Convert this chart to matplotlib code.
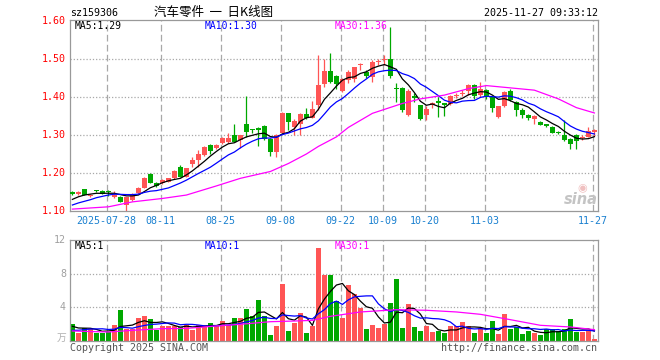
import matplotlib
matplotlib.use('Agg')
import matplotlib.pyplot as plt
import numpy as np

plt.rcParams['lines.scale_dashes'] = False

# ---------------- data ----------------
opens = [1.147, 1.146, 1.157, 1.140, 1.154, 1.152, 1.151, 1.136, 1.136, 1.116,
         1.130, 1.147, 1.161, 1.197, 1.173, 1.175, 1.177, 1.186, 1.215, 1.190,
         1.223, 1.234, 1.247, 1.274, 1.265, 1.278, 1.281, 1.300, 1.287, 1.329,
         1.314, 1.318, 1.324, 1.289, 1.256, 1.306, 1.357, 1.322, 1.329, 1.355,
         1.346, 1.379, 1.433, 1.469, 1.455, 1.417, 1.445, 1.447, 1.483, 1.467,
         1.452, 1.493, 1.497, 1.499, 1.425, 1.423, 1.353, 1.402, 1.378, 1.353,
         1.379, 1.390, 1.383, 1.381, 1.403, 1.409, 1.417, 1.431, 1.405, 1.418,
         1.400, 1.347, 1.376, 1.415, 1.387, 1.366, 1.352, 1.341, 1.335, 1.327,
         1.322, 1.307, 1.300, 1.289, 1.300, 1.292, 1.296, 1.309]
highs = [1.152, 1.152, 1.158, 1.144, 1.156, 1.154, 1.156, 1.152, 1.139, 1.138,
         1.148, 1.162, 1.189, 1.200, 1.175, 1.183, 1.188, 1.207, 1.222, 1.213,
         1.243, 1.260, 1.270, 1.276, 1.277, 1.296, 1.305, 1.329, 1.301, 1.403,
         1.316, 1.320, 1.326, 1.291, 1.302, 1.360, 1.358, 1.343, 1.357, 1.370,
         1.390, 1.510, 1.500, 1.515, 1.458, 1.449, 1.470, 1.480, 1.490, 1.470,
         1.497, 1.500, 1.510, 1.585, 1.436, 1.427, 1.420, 1.410, 1.380, 1.375,
         1.388, 1.400, 1.385, 1.405, 1.410, 1.418, 1.434, 1.434, 1.440, 1.420,
         1.402, 1.376, 1.415, 1.420, 1.390, 1.370, 1.354, 1.353, 1.338, 1.330,
         1.324, 1.310, 1.339, 1.291, 1.302, 1.300, 1.320, 1.315]
lows = [1.141, 1.141, 1.142, 1.137, 1.150, 1.145, 1.140, 1.135, 1.123, 1.101,
        1.126, 1.146, 1.160, 1.174, 1.163, 1.172, 1.176, 1.185, 1.189, 1.189,
        1.215, 1.216, 1.246, 1.250, 1.263, 1.277, 1.280, 1.281, 1.265, 1.296,
        1.305, 1.270, 1.288, 1.246, 1.243, 1.304, 1.313, 1.300, 1.300, 1.343,
        1.344, 1.366, 1.427, 1.436, 1.420, 1.414, 1.437, 1.440, 1.470, 1.450,
        1.440, 1.484, 1.484, 1.450, 1.388, 1.360, 1.350, 1.388, 1.339, 1.340,
        1.370, 1.348, 1.350, 1.378, 1.398, 1.403, 1.404, 1.395, 1.400, 1.396,
        1.361, 1.345, 1.374, 1.390, 1.350, 1.345, 1.339, 1.329, 1.325, 1.320,
        1.305, 1.302, 1.285, 1.262, 1.262, 1.288, 1.294, 1.298]
closes = [1.146, 1.149, 1.143, 1.142, 1.153, 1.146, 1.150, 1.142, 1.125, 1.136,
          1.146, 1.161, 1.188, 1.175, 1.167, 1.181, 1.186, 1.206, 1.190, 1.212,
          1.234, 1.249, 1.269, 1.259, 1.273, 1.291, 1.293, 1.282, 1.300, 1.309,
          1.312, 1.313, 1.290, 1.255, 1.300, 1.357, 1.333, 1.338, 1.355, 1.344,
          1.369, 1.432, 1.469, 1.440, 1.433, 1.447, 1.467, 1.478, 1.485, 1.455,
          1.493, 1.495, 1.499, 1.455, 1.422, 1.366, 1.417, 1.398, 1.341, 1.369,
          1.383, 1.385, 1.380, 1.402, 1.405, 1.411, 1.431, 1.403, 1.420, 1.401,
          1.370, 1.375, 1.413, 1.392, 1.365, 1.353, 1.344, 1.350, 1.326, 1.325,
          1.306, 1.305, 1.287, 1.276, 1.284, 1.295, 1.310, 1.313]
volumes = [2.07, 0.91, 1.50, 1.43, 1.00, 0.95, 1.10, 1.95, 3.65, 1.39,
           1.39, 2.70, 2.94, 2.66, 1.35, 1.75, 1.75, 1.75, 1.67, 1.95,
           1.27, 1.95, 1.95, 2.10, 1.95, 2.34, 1.95, 2.70, 2.78, 3.77,
           2.94, 4.85, 2.94, 0.68, 1.75, 6.75, 1.15, 2.10, 3.30, 0.91,
           1.83, 11.04, 7.87, 7.87, 4.73, 2.78, 6.63, 5.64, 3.97, 1.39,
           1.87, 1.50, 1.99, 4.49, 7.35, 1.50, 4.37, 1.63, 1.15, 1.75,
           1.03, 1.15, 0.91, 1.75, 1.75, 2.22, 1.75, 0.91, 1.50, 0.91,
           2.34, 0.79, 3.18, 1.39, 1.63, 0.79, 1.15, 0.91, 0.68, 1.39,
           1.39, 1.15, 1.39, 2.58, 1.03, 1.03, 1.15, 0.20]
# closes / volumes just before the visible window (for the moving averages)
pre_closes = [1.095, 1.100, 1.100, 1.100, 1.110, 1.115, 1.120, 1.130, 1.142]
pre_volumes = [0.80, 0.70, 0.80, 0.85, 0.80, 1.90, 1.60, 1.50, 1.68]
# MA30
ma30_idx = [0, 6, 10, 15, 19, 24, 28, 33, 36, 39, 41, 44, 46, 50, 55, 58, 62,
            66, 69, 73, 77, 81, 84, 87]
ma30_price = [1.105, 1.111, 1.124, 1.133, 1.142, 1.166, 1.186, 1.204, 1.225,
              1.250, 1.270, 1.295, 1.320, 1.357, 1.383, 1.395, 1.405, 1.422,
              1.430, 1.424, 1.418, 1.395, 1.372, 1.358]
vma30_idx = [0, 6, 10, 15, 19, 24, 28, 33, 37, 40, 43, 48, 54, 59, 64, 68, 73,
             78, 83, 87]
vma30_vals = [1.19, 1.07, 1.27, 1.47, 1.50, 1.79, 1.99, 2.30, 2.38, 2.46, 2.94,
              3.46, 3.73, 3.66, 3.46, 3.18, 2.54, 1.87, 1.67, 1.35]
date_idx = [6, 15, 25, 35, 45, 52, 59, 69, 87]
date_labels = ['2025-07-28', '08-11', '08-25', '09-08', '09-22', '10-09',
               '10-20', '11-03', '11-27']
price_ticks = [1.10, 1.20, 1.30, 1.40, 1.50, 1.60]
vol_ticks = [4, 8, 12]


def moving_avg(vals, prior, n):
    full = list(prior) + list(vals)
    k = len(prior)
    return [np.mean(full[k + i - n + 1:k + i + 1]) for i in range(len(vals))]


RED = '#ff5555'
GREEN = '#00a800'
GRID = '#a8a8a8'
MONO = 'DejaVu Sans Mono'

W, H = 660, 360
fig = plt.figure(figsize=(6.6, 3.6), dpi=100)


def px_axes(x0, y0, x1, y1):
    return fig.add_axes([x0 / W, 1 - y1 / H, (x1 - x0) / W, (y1 - y0) / H])


ax = px_axes(70, 20, 598, 211)
axv = px_axes(70, 240, 598, 341)

n = len(closes)
x = np.arange(n)
up = [c >= o for o, c in zip(opens, closes)]
cols = [RED if u else GREEN for u in up]

xlim = (-0.4, 87.6)

for a in (ax, axv):
    a.set_xlim(*xlim)
    for s in a.spines.values():
        s.set_color('#999999')
        s.set_linewidth(0.9)
    a.set_xticks([])
    a.set_yticks([])
    for di in date_idx:
        a.axvline(di - 0.3, color=GRID, lw=0.9, dashes=(4.8, 2.4), zorder=0)

# price panel
ax.set_ylim(1.10, 1.10 + 191 / 380)
for p in price_ticks[1:-1]:
    ax.axhline(p, color=GRID, lw=0.9, dashes=(0.9, 1.4), zorder=0)

ax.vlines(x, lows, highs, colors=cols, lw=0.9, zorder=2)
bottoms = [min(o, c) for o, c in zip(opens, closes)]
heights = [max(abs(c - o), 0.0028) for o, c in zip(opens, closes)]
ax.bar(x, heights, bottom=bottoms, width=0.8, color=cols, lw=0, zorder=3)

ma5 = moving_avg(closes, pre_closes, 5)
ma10 = moving_avg(closes, pre_closes, 10)
ax.plot(x, ma5, color='black', lw=0.9, zorder=4)
ax.plot(x, ma10, color='#0000ff', lw=0.9, zorder=4)
ax.plot(ma30_idx, ma30_price, color='#ff00ff', lw=0.9, zorder=4)

# volume panel
axv.set_ylim(0, 12 * 101 / 100.7)
for v in vol_ticks[:-1]:
    axv.axhline(v, color=GRID, lw=0.9, dashes=(0.9, 1.4), zorder=0)
axv.bar(x, volumes, width=0.8, color=cols, lw=0, zorder=2)
vma5 = moving_avg(volumes, pre_volumes, 5)
vma10 = moving_avg(volumes, pre_volumes, 10)
axv.plot(x, vma5, color='black', lw=0.9, zorder=4)
axv.plot(x, vma10, color='#0000ff', lw=0.9, zorder=4)
axv.plot(vma30_idx, vma30_vals, color='#ff00ff', lw=0.9, zorder=4)


def ftext(px, py, s, **kw):
    fig.text(px / W, 1 - py / H, s, **kw)


# titles
ftext(70, 13, 'sz159306', family=MONO, fontsize=7.2, va='center', ha='left')
ftext(214, 12, '汽车零件  一  日K线图', family=['Noto Sans CJK SC', 'DejaVu Sans'],
      fontsize=9.0, va='center', ha='center')
ftext(598, 13, '2025-11-27 09:33:12', family=MONO, fontsize=7.2,
      va='center', ha='right')

# price tick labels
for p in price_ticks:
    y = 211 - (p - 1.10) * 380
    ftext(66, y, f'{p:.2f}', family=MONO, fontsize=7.2, color='#ff0000',
          va='center', ha='right')

# MA labels
ftext(75, 26, 'MA5:1.29', family=MONO, fontsize=7.0, color='black', va='center')
ftext(205, 26, 'MA10:1.30', family=MONO, fontsize=7.0, color='#0000ff', va='center')
ftext(335, 26, 'MA30:1.36', family=MONO, fontsize=7.0, color='#ff00ff', va='center')
ftext(75, 246, 'MA5:1', family=MONO, fontsize=7.0, color='black', va='center')
ftext(205, 246, 'MA10:1', family=MONO, fontsize=7.0, color='#0000ff', va='center')
ftext(335, 246, 'MA30:1', family=MONO, fontsize=7.0, color='#ff00ff', va='center')

# date labels
for di, lab in zip(date_idx, date_labels):
    xp = 72.4 + 6 * di - 1.7
    ftext(xp, 221, lab, family=MONO, fontsize=7.2, color='#1a80d0',
          va='center', ha='center')

# volume tick labels
for v in vol_ticks:
    y = 341 - v * 8.42
    ftext(66, y, str(v), family=MONO, fontsize=7.2, color='#a0a0a0',
          va='center', ha='right')
ftext(66, 338, '万', family=['Noto Sans CJK SC', 'DejaVu Sans'], fontsize=7,
      color='#b0b0b0', va='center', ha='right')

ftext(70, 348, 'Copyright 2025 SINA.COM', family=MONO, fontsize=7.2,
      color='#555555', va='center', ha='left')
ftext(597, 348, 'http://finance.sina.com.cn', family=MONO, fontsize=7.2,
      color='#555555', va='center', ha='right')

# sina watermark
ftext(581, 200, 'sina', family='DejaVu Sans', fontsize=10.5, fontweight='bold',
      style='italic', color='#c4c4c4', va='center', ha='center')
ftext(582, 188, '◉', family='DejaVu Sans', fontsize=8, color='#f0c0c0',
      va='center', ha='center')

fig.savefig('out.png', dpi=100)
